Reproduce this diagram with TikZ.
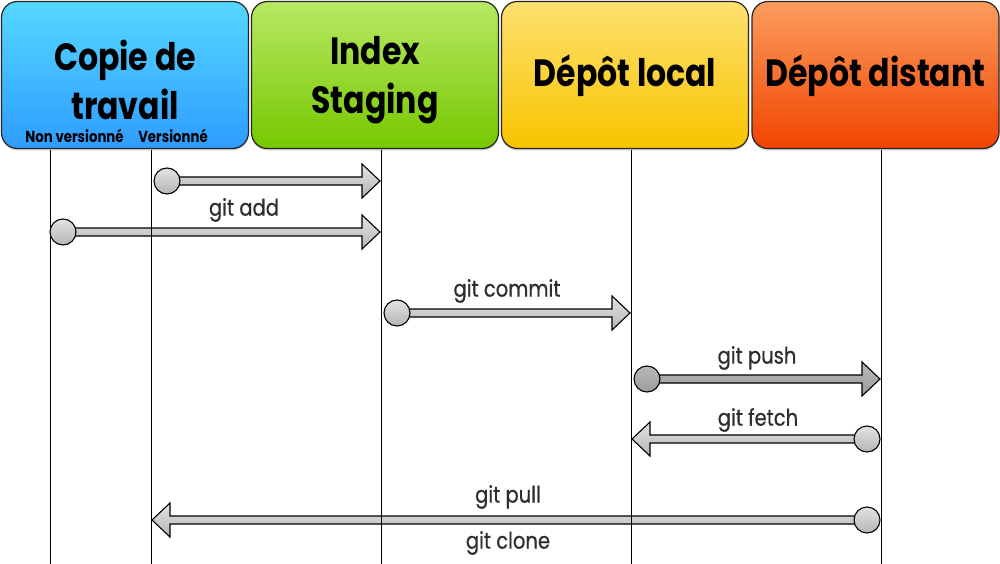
\documentclass[tikz,border=0pt]{standalone}
\usepackage{fontspec}
\setmainfont{Poppins}
\newfontfamily\hdrfont[FakeStretch=0.83]{Poppins}
\newfontfamily\lblfont[FakeStretch=0.85,FakeBold=0.6]{Poppins}
\usetikzlibrary{calc,shadows}
\definecolor{bluetop}{HTML}{55D8FF}
\definecolor{bluebot}{HTML}{2E9CFF}
\definecolor{greentop}{HTML}{B8E864}
\definecolor{greenbot}{HTML}{76C800}
\definecolor{yellowtop}{HTML}{FDE070}
\definecolor{yellowbot}{HTML}{F8C400}
\definecolor{orangetop}{HTML}{FB9C5E}
\definecolor{orangebot}{HTML}{F24400}
\definecolor{lbl}{HTML}{2E2E2E}
\tikzset{
  hdr/.style={draw=black!85, line width=1.2pt, rounded corners=16pt,
    minimum width=247pt, minimum height=147pt, inner sep=0pt,
    drop shadow={shadow xshift=0pt, shadow yshift=-2pt, opacity=0.35}},
  hdrtxt/.style={font=\hdrfont\bfseries\fontsize{38}{49}\selectfont, align=center, inner sep=0pt, text=black},
  subtxt/.style={font=\hdrfont\bfseries\fontsize{16}{18}\selectfont, inner sep=0pt, text=black},
  lbltxt/.style={font=\lblfont\fontsize{23}{26}\selectfont, inner sep=0pt, text=lbl},
  lifeline/.style={draw=black, line width=0.9pt},
  arrowbody/.style={draw=black, line width=1.1pt, line join=miter},
  lightarrow/.style={top color=gray!22, bottom color=gray!58},
  darkarrow/.style={top color=gray!55, bottom color=gray!78},
  dot/.style={circle, draw=black, line width=1.1pt, minimum size=26pt, inner sep=0pt},
}
\newcommand\fatarrow[4]{%
  \path[arrowbody,#4] let \p1=(#1), \p2=(#2) in
    ({\x1},{\y1+4pt}) -- ({\x2-(#3)*18pt},{\y1+4pt}) -- ({\x2-(#3)*18pt},{\y1+17pt})
    -- ({\x2},{\y1}) -- ({\x2-(#3)*18pt},{\y1-17pt}) -- ({\x2-(#3)*18pt},{\y1-4pt})
    -- ({\x1},{\y1-4pt}) -- cycle;}
\begin{document}
\begin{tikzpicture}[x=1pt,y=-1pt]
\useasboundingbox (0,0) rectangle (1000,564);
\fill[white] (0,0) rectangle (1000,564);

% header boxes
\node[hdr, top color=bluetop, bottom color=bluebot] (wc) at (125,75) {};
\node[hdr, top color=greentop, bottom color=greenbot] (idx) at (375,75) {};
\node[hdr, top color=yellowtop, bottom color=yellowbot] (loc) at (625,75) {};
\node[hdr, top color=orangetop, bottom color=orangebot] (rem) at (875.5,75) {};

\node[hdrtxt] (wct) at (125,80) {Copie de\\travail};
\node[hdrtxt] (idxt) at (375,80) {Index\\Staging};
\node[hdrtxt] (loct) at (625,76) {Dépôt local};
\node[hdrtxt] (remt) at (875.5,76) {Dépôt distant};
\node[subtxt] (nv) at (74.5,136) {Non versionné};
\node[subtxt] (ve) at (173,136) {Versionné};

% lifeline endpoints
\coordinate (l1t) at (50,150);   \coordinate (l1b) at (50,564);
\coordinate (l2t) at (151,150);  \coordinate (l2b) at (151,564);
\coordinate (l3t) at (381,150);  \coordinate (l3b) at (381,564);
\coordinate (l4t) at (631,150);  \coordinate (l4b) at (631,564);
\coordinate (l5t) at (881,150);  \coordinate (l5b) at (881,564);

% arrow endpoints
\coordinate (s1) at (167,181); \coordinate (e1) at (380,181);
\coordinate (s2) at (63,232);  \coordinate (e2) at (380,232);
\coordinate (s3) at (397,313); \coordinate (e3) at (630,313);
\coordinate (s4) at (647,379); \coordinate (e4) at (880,379);
\coordinate (s5) at (867,439); \coordinate (e5) at (632,439);
\coordinate (s6) at (867,520); \coordinate (e6) at (152,520);

% arrow bodies
\fatarrow{s1}{e1}{1}{lightarrow}
\fatarrow{s2}{e2}{1}{lightarrow}
\fatarrow{s3}{e3}{1}{lightarrow}
\fatarrow{s4}{e4}{1}{darkarrow}
\fatarrow{s5}{e5}{-1}{lightarrow}
\fatarrow{s6}{e6}{-1}{lightarrow}

% lifelines
\draw[lifeline] (l1t) -- (l1b);
\draw[lifeline] (l2t) -- (l2b);
\draw[lifeline] (l3t) -- (l3b);
\draw[lifeline] (l4t) -- (l4b);
\draw[lifeline] (l5t) -- (l5b);

% start dots
\node[dot, lightarrow] (d1) at (s1) {};
\node[dot, lightarrow] (d2) at (s2) {};
\node[dot, lightarrow] (d3) at (s3) {};
\node[dot, darkarrow] (d4) at (s4) {};
\node[dot, lightarrow] (d5) at (s5) {};
\node[dot, lightarrow] (d6) at (s6) {};

% labels
\node[lbltxt] (ladd) at (244,210) {git add};
\node[lbltxt] (lcommit) at (507,291) {git commit};
\node[lbltxt] (lpush) at (757,358) {git push};
\node[lbltxt] (lfetch) at (758,420) {git fetch};
\node[lbltxt] (lpull) at (508,497) {git pull};
\node[lbltxt] (lclone) at (508,543) {git clone};
\end{tikzpicture}
\end{document}
